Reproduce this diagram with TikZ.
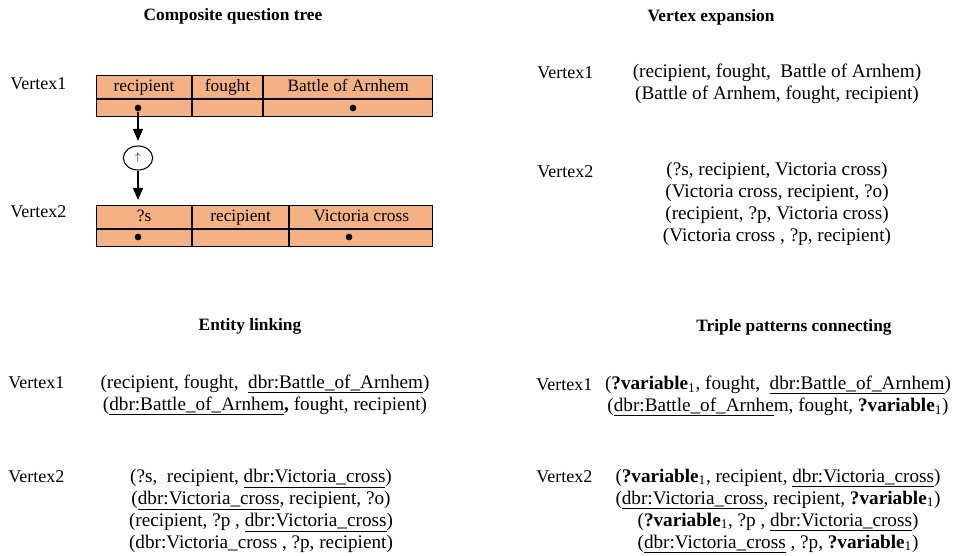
\documentclass[tikz,border=0pt]{standalone}
\usepackage{fontspec}
\setmainfont{Liberation Serif}
\usepackage{tikz}
\usetikzlibrary{arrows.meta, shapes.geometric}
\definecolor{cellfill}{HTML}{F4B183}
\newcommand{\qvar}{\textbf{?variable}\textsubscript{1}}
\newcommand{\dbrline}[1]{\underline{#1}}
\tikzstyle{arrow} = [line width=0.8pt,-{Triangle[length=9pt,width=7.5pt]}]
\tikzstyle{cell} = [rectangle, draw, line width=0.8pt, fill=cellfill, anchor=north west, inner sep=0pt, minimum height=17.25pt, text height=9pt, text depth=3pt]
\tikzstyle{dcell} = [cell, minimum height=12.75pt]
\tikzstyle{dot} = [circle, fill=black, inner sep=0pt, minimum size=5pt]
\tikzstyle{title} = [font=\fontsize{13}{16.5}\selectfont\bfseries]
\tikzstyle{triples} = [align=center, inner sep=0pt, font=\fontsize{14.4}{16.5}\selectfont]
\tikzstyle{vlabel} = [anchor=west, inner sep=0pt, font=\fontsize{13.5}{16.5}\selectfont]

\begin{document}
\begin{tikzpicture}[x=0.75pt, y=-0.75pt, font=\fontsize{13}{16.5}\selectfont]
\useasboundingbox (0,0) rectangle (953,556);

% titles
\node [title] (t1) at (233,16) {Composite question tree};
\node [title] (t2) at (711,17) {Vertex expansion};
\node [title] (t3) at (250,326) {Entity linking};
\node [title] (t4) at (794,327) {Triple patterns connecting};

% composite question tree
\node [vlabel] (a) at (10,84) {Vertex1};
\node [cell, minimum width=71.25pt] (a1) at (96,75) {recipient};
\node [cell, minimum width=52.5pt] (a2) at (a1.north east) {fought};
\node [cell, minimum width=126.75pt] (a3) at (a2.north east) {Battle of Arnhem};
\node [dcell, minimum width=71.25pt] (a11) at (a1.south west) {};
\node [dcell, minimum width=52.5pt] (a21) at (a2.south west) {};
\node [dcell, minimum width=126.75pt] (a31) at (a3.south west) {};
\node [dot] (adot1) at (138,108) {};
\node [dot] (adot3) at (353,108) {};

\node [ellipse, draw, line width=0.8pt, minimum width=22pt, minimum height=18pt, inner sep=0pt] (q) at (138,158) {\footnotesize$\uparrow$};

\node [vlabel] (b) at (10,212) {Vertex2};
\node [cell, minimum width=71.25pt] (b1) at (96,205) {?s};
\node [cell, minimum width=72pt] (b2) at (b1.north east) {recipient};
\node [cell, minimum width=107.25pt] (b3) at (b2.north east) {Victoria cross};
\node [dcell, minimum width=71.25pt] (b11) at (b1.south west) {};
\node [dcell, minimum width=72pt] (b21) at (b2.south west) {};
\node [dcell, minimum width=107.25pt] (b31) at (b3.south west) {};
\node [dot] (bdot1) at (138,237) {};
\node [dot] (bdot3) at (349,237) {};
\coordinate (bin) at (138,205);

\draw [arrow, shorten >=3.5pt] (adot1) -- (q);
\draw [arrow, shorten >=3.75pt] (q) -- (bin);

% vertex expansion
\node [vlabel] (c) at (537,73) {Vertex1};
\node [triples] (c1) at (777,84) {(recipient, fought,\ \ Battle of Arnhem)\\(Battle of Arnhem, fought, recipient)};
\node [vlabel] (d) at (537,172) {Vertex2};
\node [triples] (d1) at (777,204) {(?s, recipient, Victoria cross)\\(Victoria cross, recipient, ?o)\\(recipient, ?p, Victoria cross)\\(Victoria cross , ?p, recipient)};

% entity linking
\node [vlabel] (e) at (8,383) {Vertex1};
\node [triples] (e1) at (265,395) {(recipient, fought,\ \ \dbrline{dbr:Battle\_of\_Arnhem})\\(\dbrline{dbr:Battle\_of\_Arnhem}\textbf{,} fought, recipient)};
\node [vlabel] (f) at (8,477) {Vertex2};
\node [triples] (f1) at (261,511) {(?s,\ \ recipient, \dbrline{dbr:Victoria\_cross})\\(\dbrline{dbr:Victoria\_cross}, recipient, ?o)\\(recipient, ?p , \dbrline{dbr:Victoria\_cross})\\(dbr:Victoria\_cross , ?p, recipient)};

% triple patterns connecting
\node [vlabel] (g) at (536,385) {Vertex1};
\node [triples] (g1) at (778,396) {(\qvar, fought,\ \ \dbrline{dbr:Battle\_of\_Arnhem})\\(\dbrline{dbr:Battle\_of\_Arnhe}m, fought, \qvar)};
\node [vlabel] (h) at (536,477) {Vertex2};
\node [triples] (h1) at (778,511) {(\qvar, recipient, \dbrline{dbr:Victoria\_cross})\\(\dbrline{dbr:Victoria\_cross}, recipient, \qvar)\\(\qvar, ?p , \dbrline{dbr:Victoria\_cross})\\(\dbrline{dbr:Victoria\_cross} , ?p, \qvar)};
\end{tikzpicture}
\end{document}
